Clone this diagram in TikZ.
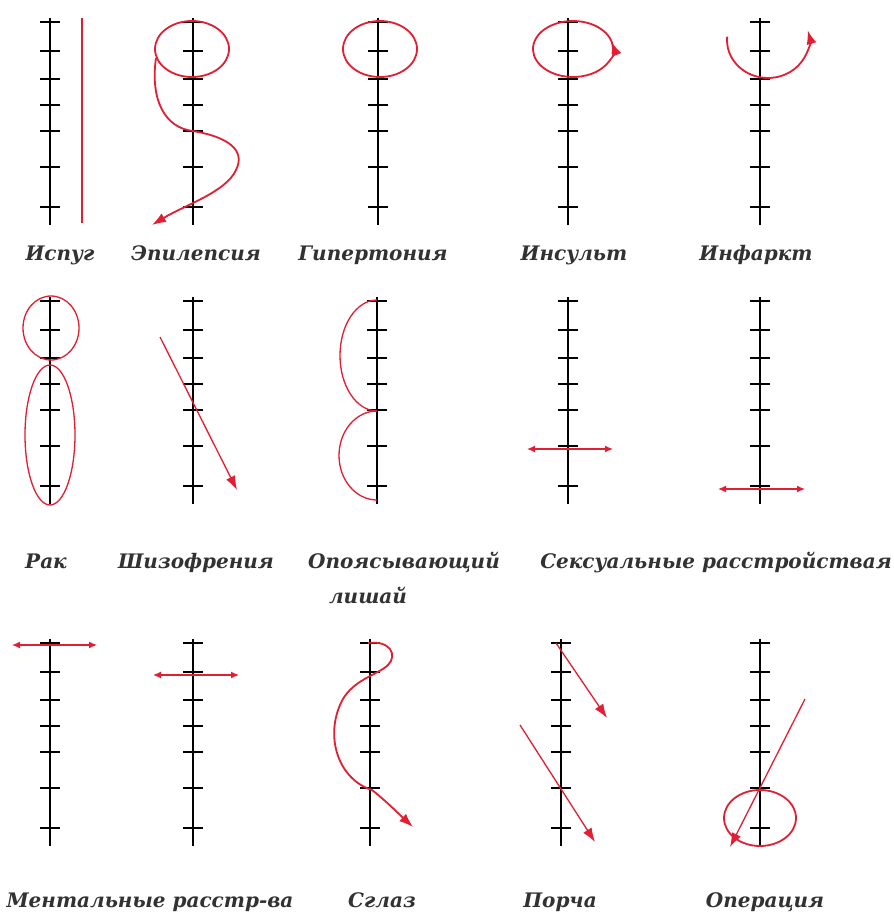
\documentclass[tikz,border=0pt]{standalone}
\usepackage{fontspec}
\setmainfont{DejaVu Serif}
\usetikzlibrary{arrows.meta}
\definecolor{redpen}{RGB}{225,30,50}
\definecolor{labelgray}{RGB}{50,50,50}
\tikzset{
  axisline/.style={draw=black, line width=1.6pt},
  axis/.pic={
    \draw[axisline] (0,-4) -- (0,203);
    \foreach \t in {0,29,57,83,109,145,185} \draw[axisline] (-10,\t) -- (10,\t);
  },
  pen/.style={draw=redpen, line width=1.8pt},
  thinpen/.style={draw=redpen, line width=1.3pt},
  tip/.style={-{Latex[length=14pt,width=10pt]}},
  bothtip/.style={{Latex[length=8pt,width=7pt]}-{Latex[length=8pt,width=7pt]}},
  lbl/.style={text=labelgray, font=\fontsize{20}{24}\selectfont\bfseries\itshape, anchor=base, inner sep=0pt}
}
\begin{document}
\begin{tikzpicture}[x=1pt,y=-1pt]
\useasboundingbox[fill=white] (0,0) rectangle (894,913);
% ---------- row 1 axes
\pic at (50,22) {axis};
\pic at (193,22) {axis};
\pic at (378,22) {axis};
\pic at (568,22) {axis};
\pic at (760,22) {axis};
% ---------- row 2 axes
\pic at (50,301) {axis};
\pic at (193,301) {axis};
\pic at (377,301) {axis};
\pic at (568,301) {axis};
\pic at (760,301) {axis};
% ---------- row 3 axes
\pic at (50,643) {axis};
\pic at (193,643) {axis};
\pic at (370,643) {axis};
\pic at (561,643) {axis};
\pic at (760,643) {axis};

% Испуг
\draw[thinpen] (82,18) -- (82,223);
% Эпилепсия
\draw[pen] (192,49) ellipse[x radius=37, y radius=28];
\draw[pen,tip] (156,58) .. controls (150,100) and (165,128) .. (193,131)
  .. controls (228,137) and (246,150) .. (236,170)
  .. controls (226,192) and (185,205) .. (152,225);
% Гипертония
\draw[pen] (380,49) ellipse[x radius=37, y radius=28];
% Инсульт
\draw[pen,tip] (573,49) ++(10:40 and 28) arc[start angle=10, end angle=-375, x radius=40, y radius=28];
% Инфаркт
\draw[pen,tip] (768,40) ++(185:41 and 38) arc[start angle=185, end angle=-15, x radius=41, y radius=38];

% Рак
\draw[thinpen] (51,328) ellipse[x radius=28, y radius=32];
\draw[thinpen] (50,435) ellipse[x radius=25, y radius=70];
% Шизофрения
\draw[thinpen,tip] (160,337) -- (237,490);
% Опоясывающий лишай
\draw[thinpen] (377,300) arc[start angle=-90, end angle=-270, x radius=37, y radius=55.5];
\draw[thinpen] (377,411) arc[start angle=-90, end angle=-270, x radius=38, y radius=44.5];
% Сексуальные расстройства
\draw[thinpen,bothtip] (527,449) -- (613,449);
\draw[thinpen,bothtip] (718,489) -- (805,489);

% Ментальные
\draw[thinpen,bothtip] (12,645) -- (97,645);
\draw[thinpen,bothtip] (153,675) -- (239,675);
% Сглаз
\draw[pen,tip] (368,643) .. controls (390,640) and (398,655) .. (388,665)
  .. controls (378,675) and (350,680) .. (340,705)
  .. controls (325,740) and (340,780) .. (372,790)
  .. controls (385,800) and (400,815) .. (413,827);
% Порча
\draw[thinpen,tip] (556,643) -- (607,718);
\draw[thinpen,tip] (520,725) -- (595,842);
% Операция
\draw[pen] (760,818) ellipse[x radius=36, y radius=28];
\draw[thinpen,tip] (805,699) -- (730,847);

% ---------- labels
\node[lbl] (l1) at (60,260) {Испуг};
\node[lbl] (l2) at (196,260) {Эпилепсия};
\node[lbl] (l3) at (373,260) {Гипертония};
\node[lbl] (l4) at (574,260) {Инсульт};
\node[lbl] (l5) at (756,260) {Инфаркт};
\node[lbl] (l6) at (46,568) {Рак};
\node[lbl] (l7) at (196,568) {Шизофрения};
\node[lbl] (l8) at (404,568) {Опоясывающий};
\node[lbl] (l9) at (368,603) {лишай};
\node[lbl] (l10) at (716,568) {Сексуальные расстройствая};
\node[lbl] (l11) at (150,907) {Ментальные расстр-ва};
\node[lbl] (l12) at (382,907) {Сглаз};
\node[lbl] (l13) at (560,907) {Порча};
\node[lbl] (l14) at (765,907) {Операция};
\end{tikzpicture}
\end{document}
